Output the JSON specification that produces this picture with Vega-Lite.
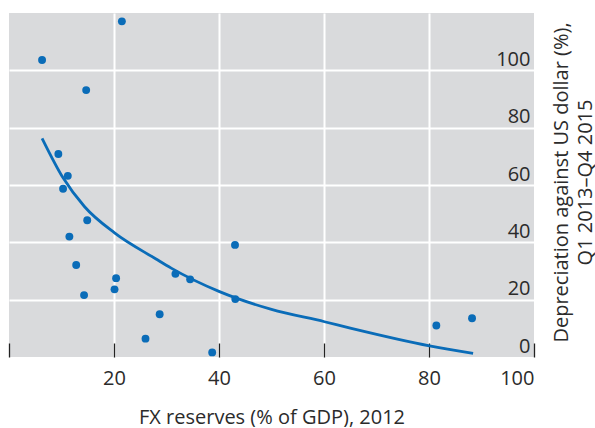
{
  "$schema": "https://vega.github.io/schema/vega-lite/v6.json",
  "width": 525,
  "height": 344,
  "padding": {"left": 8, "top": 13, "right": 0, "bottom": 0},
  "background": "white",
  "config": {
    "view": {"stroke": null, "fill": "#d9dadc"},
    "font": "Open Sans",
    "axis": {"labelFont": "Open Sans", "titleFont": "Open Sans", "labelColor": "#2b2b2b", "titleColor": "#2b2b2b", "titleFontWeight": "normal"}
  },
  "datasets": {
    "pts": [
      {"fx": 6.3, "dep": 103.6},
      {"fx": 21.5, "dep": 117.1},
      {"fx": 14.7, "dep": 93.1},
      {"fx": 9.4, "dep": 70.8},
      {"fx": 11.2, "dep": 63.2},
      {"fx": 10.3, "dep": 58.7},
      {"fx": 14.9, "dep": 47.7},
      {"fx": 11.5, "dep": 42.0},
      {"fx": 12.8, "dep": 32.1},
      {"fx": 14.3, "dep": 21.6},
      {"fx": 20.4, "dep": 27.5},
      {"fx": 20.1, "dep": 23.6},
      {"fx": 28.7, "dep": 14.9},
      {"fx": 26.0, "dep": 6.4},
      {"fx": 31.7, "dep": 29.0},
      {"fx": 34.5, "dep": 27.1},
      {"fx": 38.7, "dep": 1.6},
      {"fx": 43.05, "dep": 39.1},
      {"fx": 43.1, "dep": 20.2},
      {"fx": 81.4, "dep": 11.0},
      {"fx": 88.2, "dep": 13.5}
    ],
    "fit": [
      {"fx": 6.3, "dep": 76.3},
      {"fx": 10.3, "dep": 62.5},
      {"fx": 14.4, "dep": 52.4},
      {"fx": 20.1, "dep": 43.3},
      {"fx": 28.0, "dep": 34.2},
      {"fx": 30.9, "dep": 31.0},
      {"fx": 40.1, "dep": 22.8},
      {"fx": 50.0, "dep": 16.6},
      {"fx": 60.1, "dep": 12.3},
      {"fx": 65.2, "dep": 10.0},
      {"fx": 80.1, "dep": 3.9},
      {"fx": 88.4, "dep": 1.3}
    ]
  },
  "encoding": {
    "x": {
      "field": "fx", "type": "quantitative",
      "scale": {"domain": [0, 100], "nice": false, "zero": false},
      "axis": {
        "values": [0, 20, 40, 60, 80, 100],
        "labelExpr": "datum.value == 0 ? '' : datum.label",
        "title": "FX reserves (% of GDP), 2012",
        "domain": false,
        "tickSize": -14,
        "tickColor": "#222222",
        "tickWidth": 1.3,
        "labelFontSize": 20,
        "labelPadding": 25,
        "titleFontSize": 20,
        "titlePadding": 19,
        "gridColor": "white",
        "gridWidth": 2,
        "gridOpacity": {"condition": {"test": "datum.value == 0 || datum.value == 100", "value": 0}, "value": 1}
      }
    },
    "y": {
      "field": "dep", "type": "quantitative",
      "scale": {"domain": [0, 120], "nice": false, "zero": false},
      "axis": {
        "orient": "right",
        "values": [0, 20, 40, 60, 80, 100],
        "domain": false,
        "ticks": false,
        "labelAlign": "right",
        "labelBaseline": "alphabetic",
        "labelPadding": -4,
        "labelOffset": -5,
        "labelFontSize": 20,
        "title": ["Depreciation against US dollar (%),", "Q1 2013–Q4 2015"],
        "titleFontSize": 20,
        "titleAngle": 270,
        "titleAlign": "center",
        "titleBaseline": "middle",
        "titleLineHeight": 24,
        "titleX": 27,
        "titleY": 169,
        "gridColor": "white",
        "gridWidth": 2,
        "gridOpacity": {"condition": {"test": "datum.value == 0", "value": 0}, "value": 1}
      }
    }
  },
  "layer": [
    {
      "data": {"name": "fit"},
      "mark": {"type": "line", "color": "#0a6cb8", "strokeWidth": 2.8, "interpolate": "monotone"}
    },
    {
      "data": {"name": "pts"},
      "mark": {"type": "circle", "color": "#0a6cb8", "opacity": 1, "size": 62}
    }
  ]
}
